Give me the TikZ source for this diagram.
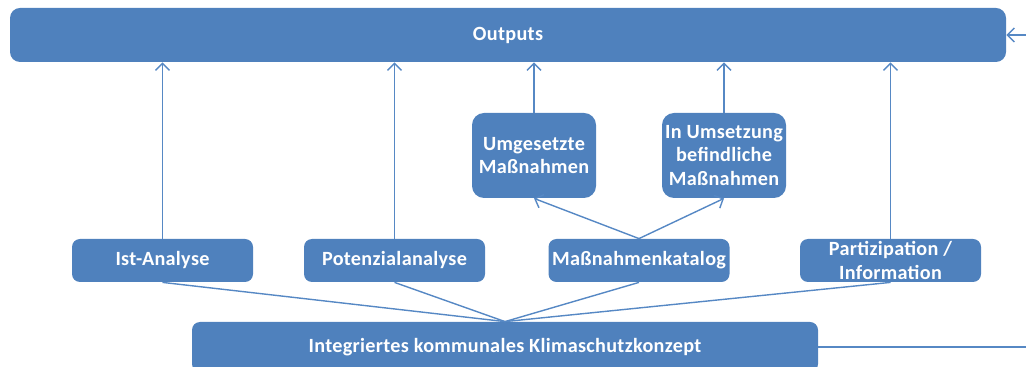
\documentclass[tikz,border=0pt]{standalone}
\usepackage{fontspec}
\setmainfont{Carlito}[LetterSpace=1.5]
\usetikzlibrary{arrows.meta}
\definecolor{boxblue}{RGB}{79,129,189}
\definecolor{lineblue}{RGB}{86,136,196}
\tikzset{
  box/.style={fill=boxblue,text=white,font=\bfseries\fontsize{10.1}{11.8}\selectfont,
    align=center,inner sep=0pt,rounded corners=4pt,
    minimum width=90.5pt,minimum height=21.5pt},
  tallbox/.style={box,rounded corners=6pt,minimum width=62pt,minimum height=42.5pt},
  link/.style={lineblue,line width=0.7pt},
  arr/.style={link,-{Straight Barb[length=3.5pt,width=7pt]}}
}
\begin{document}
\begin{tikzpicture}[x=0.5pt,y=-0.5pt]
	\useasboundingbox (0,0) rectangle (1026,367);
	% boxes
	\node[box,rounded corners=5pt,minimum width=498pt,minimum height=27pt] (outputs) at (508,35) {Outputs};
	\node[box,minimum width=313pt,minimum height=25pt] (klima) at (505,347) {Integriertes kommunales Klimaschutzkonzept};
	\node[box] (ist) at (162.5,260.5) {Ist-Analyse};
	\node[box] (pot) at (394.5,260.5) {Potenzialanalyse};
	\node[box] (kat) at (639,260.5) {Maßnahmenkatalog};
	\node[box] (part) at (890.5,260.5) {Partizipation /\\Information};
	\node[tallbox] (umg) at (534,155.5) {Umgesetzte\\Maßnahmen};
	\node[tallbox] (ums) at (724,155.5) {In Umsetzung\\befindliche\\Maßnahmen};
	% connectors
	\foreach \n in {ist,pot,kat,part}
		\draw[link] (klima.north) -- (\n.south);
	\foreach \n in {ist,pot,umg,ums,part}
		\draw[arr] (\n.north) -- (\n.north |- outputs.south);
	\draw[arr] (kat.north) -- (umg.south);
	\draw[arr] (kat.north) -- (ums.south);
	\draw[arr] (klima.east) -- (1040,347) -- (1040,35) -- (outputs.east);
\end{tikzpicture}
\end{document}
